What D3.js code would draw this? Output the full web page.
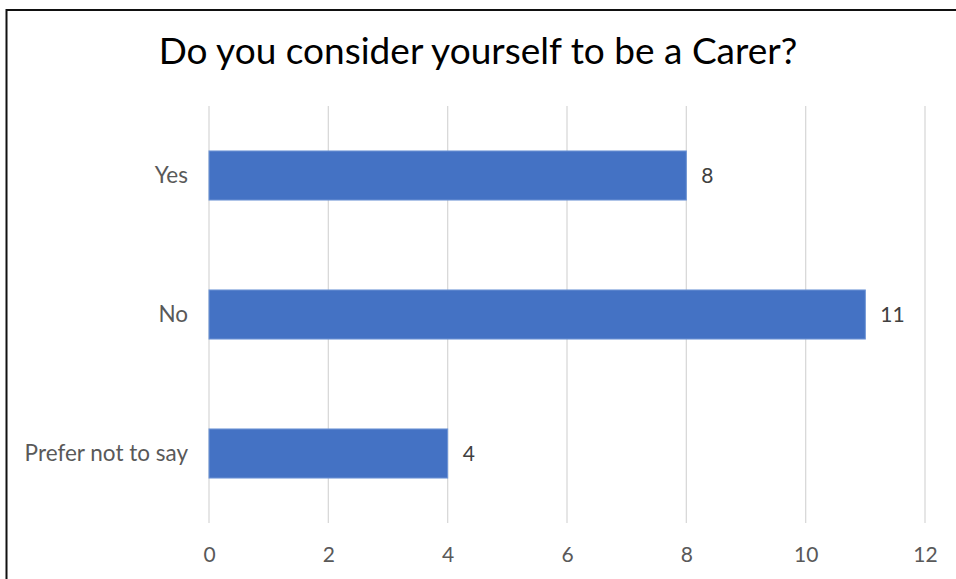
<!DOCTYPE html>
<html lang="en">
<head>
  <meta charset="UTF-8" />
  <title>Do you consider yourself to be a Carer?</title>
  <script src="https://d3js.org/d3.v7.min.js"></script>
  <style>
    body { margin: 0; background: #fff; }
    svg { display: block; font-family: 'Lato', 'Open Sans', sans-serif; }
  </style>
</head>
<body>
  <svg id="chart" width="956" height="579"></svg>
  <script>
    // Data
    const categories = ["Yes", "No", "Prefer not to say"];
    const values = [8, 11, 4];
    const tickValues = [0, 2, 4, 6, 8, 10, 12];
    const title = "Do you consider yourself to be a Carer?";

    const svg = d3.select("#chart");
    const margin = { top: 106, right: 31, bottom: 56, left: 209 };
    const width = 956, height = 579;

    // outer frame (the chart box is cut off on the right and bottom)
    svg.append("rect")
      .attr("x", 6.5).attr("y", 10)
      .attr("width", 1000).attr("height", 1000)
      .attr("fill", "#fff")
      .attr("stroke", "#111").attr("stroke-width", 2);

    const x = d3.scaleLinear()
      .domain([0, 12])
      .range([margin.left, width - margin.right]);

    const y = d3.scaleBand()
      .domain(categories)
      .range([margin.top, height - margin.bottom])
      .paddingInner(0.647)
      .paddingOuter(0.3235);

    // vertical gridlines
    svg.append("g")
      .selectAll("line")
      .data(tickValues)
      .enter()
      .append("line")
      .attr("x1", d => x(d)).attr("x2", d => x(d))
      .attr("y1", margin.top).attr("y2", height - margin.bottom)
      .attr("stroke", "#d9d9d9")
      .attr("stroke-width", 1.3);

    // bars
    svg.append("g")
      .selectAll("rect")
      .data(values)
      .enter()
      .append("rect")
      .attr("x", x(0))
      .attr("y", (d, i) => y(categories[i]))
      .attr("width", d => x(d) - x(0))
      .attr("height", y.bandwidth())
      .attr("fill", "#4472c4")
      .attr("stroke", "#6f95d6")
      .attr("stroke-width", 1);

    // value labels
    svg.append("g")
      .selectAll("text")
      .data(values)
      .enter()
      .append("text")
      .attr("x", d => x(d) + 15)
      .attr("y", (d, i) => y(categories[i]) + y.bandwidth() / 2)
      .attr("dy", "0.35em")
      .attr("fill", "#404040")
      .attr("font-size", "21px")
      .text(d => d);

    // category axis labels
    svg.append("g")
      .selectAll("text")
      .data(categories)
      .enter()
      .append("text")
      .attr("x", margin.left - 21)
      .attr("y", d => y(d) + y.bandwidth() / 2)
      .attr("dy", "0.35em")
      .attr("text-anchor", "end")
      .attr("fill", "#595959")
      .attr("font-size", "22.5px")
      .text(d => d);

    // value axis (no domain line, no ticks)
    const xAxis = d3.axisBottom(x).tickValues(tickValues).tickSize(0).tickPadding(24);
    const axisG = svg.append("g")
      .attr("transform", `translate(0,${height - margin.bottom})`)
      .call(xAxis);
    axisG.select(".domain").remove();
    axisG.selectAll("text")
      .attr("fill", "#595959")
      .attr("font-size", "21px")
      .attr("font-family", "'Lato', 'Open Sans', sans-serif");

    // title
    svg.append("text")
      .attr("x", 478)
      .attr("y", 64)
      .attr("text-anchor", "middle")
      .attr("fill", "#000")
      .attr("font-size", "37px")
      .text(title);
  </script>
</body>
</html>
